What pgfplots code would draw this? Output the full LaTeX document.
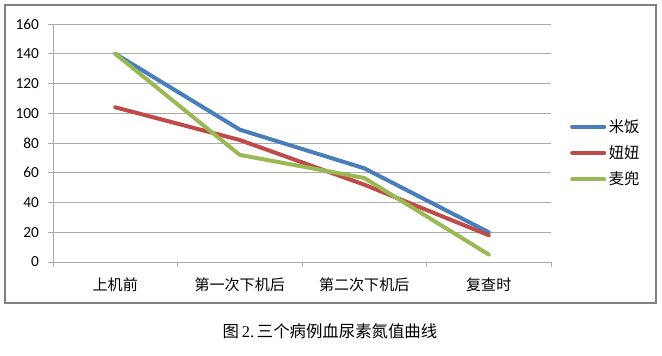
\documentclass[border=0pt]{standalone}
\usepackage{fontspec}
\setmainfont{Carlito}
\newfontfamily\cjk{Noto Sans CJK SC}
\newfontfamily\capserif{Liberation Serif}
\usepackage{pgfplots}
\pgfplotsset{compat=1.18}
\definecolor{sblue}{HTML}{4A7EBB}
\definecolor{sred}{HTML}{BE4B48}
\definecolor{sgreen}{HTML}{98B954}
\definecolor{gridc}{HTML}{ABABAB}
\definecolor{framec}{HTML}{808080}
\begin{document}
\begin{tikzpicture}
\useasboundingbox (0,0) rectangle (496.5pt,266.25pt);
\draw[framec, line width=1.3pt] (3.75pt,39pt) rectangle (492pt,262.5pt);
\begin{axis}[
  at={(39.75pt,69.75pt)}, anchor=south west,
  scale only axis, width=373.5pt, height=178.5pt,
  xmin=0, xmax=4, ymin=0, ymax=160,
  ytick={0,20,...,160},
  xtick={0.5,1.5,2.5,3.5},
  xticklabels={上机前,第一次下机后,第二次下机后,复查时},
  minor xtick={0,1,2,3,4},
  axis x line*=bottom, axis y line*=left,
  axis line style={gridc, -},
  ymajorgrids, major grid style={gridc, line width=0.6pt},
  tick align=outside,
  major tick length=4pt, minor tick length=4pt,
  xtick style={draw=none},
  minor x tick style={draw=gridc, line width=0.6pt},
  ytick style={draw=gridc, line width=0.6pt},
  /pgf/number format/assume math mode=true,
  yticklabel style={font=\fontsize{11.5}{13}\selectfont, xshift=-3pt},
  xticklabel style={font=\cjk\fontsize{11.3}{13}\selectfont, yshift=-4pt},
  legend style={draw=none, fill=none, at={(1.038,0.458)}, anchor=west,
    font=\cjk\fontsize{11.5}{13}\selectfont, row sep=4.5pt, inner sep=0pt},
  legend cell align=left,
  legend image code/.code={\draw[#1, line cap=round] (0pt,0pt) -- (24pt,0pt);},
  every axis plot/.append style={line width=3pt, line cap=round, line join=round, no markers},
  clip=false,
]
\addplot[sblue] coordinates {(0.5,140) (1.5,89) (2.5,63) (3.5,20)};
\addplot[sred] coordinates {(0.5,104) (1.5,82) (2.5,52) (3.5,18)};
\addplot[sgreen] coordinates {(0.5,140) (1.5,72) (2.5,56.5) (3.5,5)};
\legend{米饭,妞妞,麦兜}
\end{axis}
\node at (247.5pt,18pt) {\fontsize{12.3}{14}\selectfont\cjk 图\,{\capserif 2.}\,三个病例血尿素氮值曲线};
\end{tikzpicture}
\end{document}
